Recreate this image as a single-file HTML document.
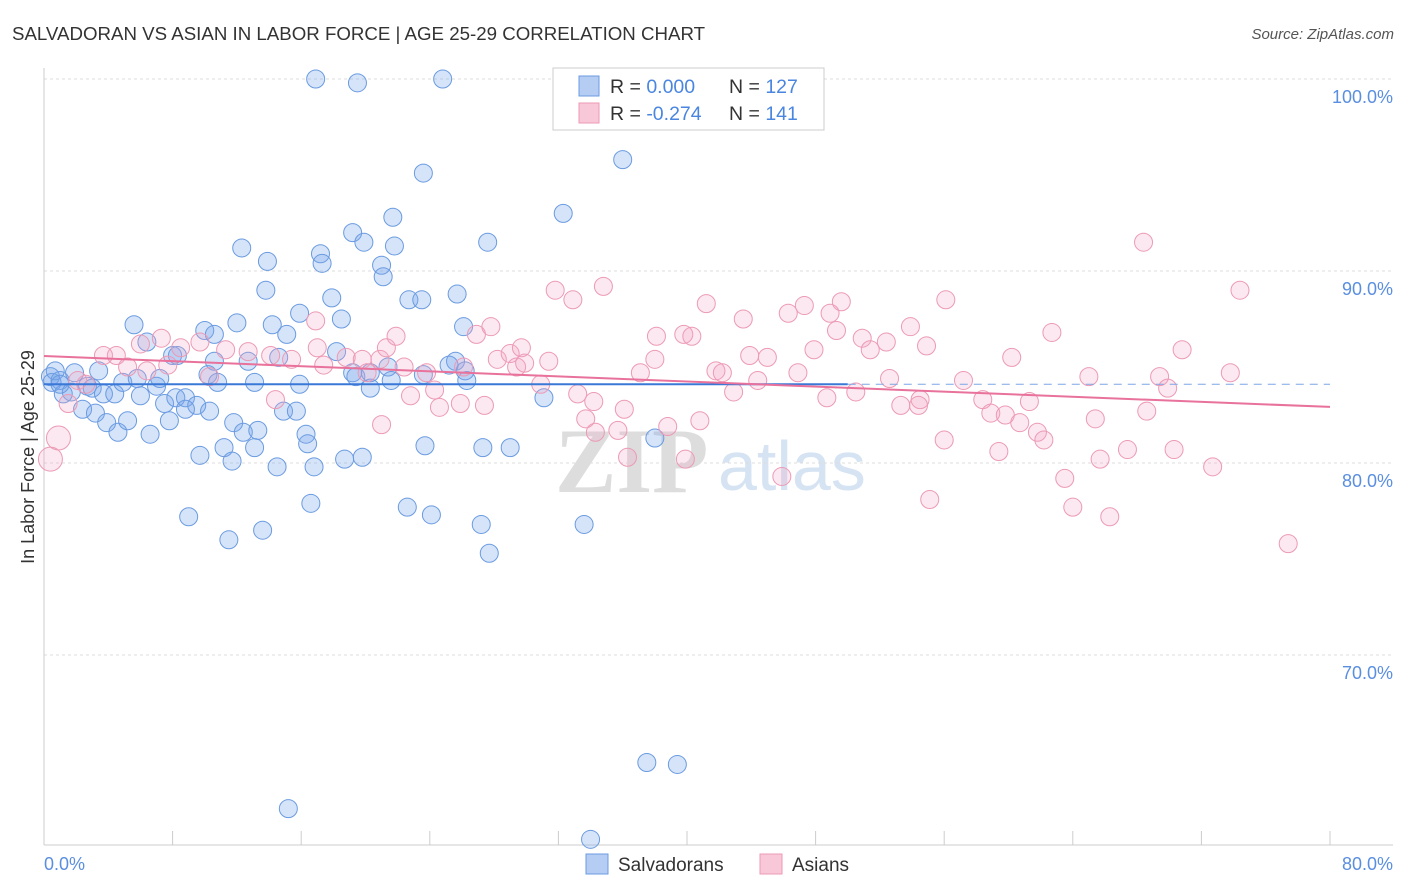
<!DOCTYPE html>
<html><head><meta charset="utf-8"><style>
body{margin:0;background:#fff;font-family:"Liberation Sans",sans-serif;}
svg{display:block}
</style></head><body>
<svg id="chart" width="1406" height="892">
<text x="12" y="40" font-size="18.7" fill="#333">SALVADORAN VS ASIAN IN LABOR FORCE | AGE 25-29 CORRELATION CHART</text>
<text x="1394" y="39" font-size="15" fill="#555" font-style="italic" text-anchor="end">Source: ZipAtlas.com</text>
<text x="555" y="492" font-size="92" fill="#ddd" font-family="Liberation Serif,serif" font-weight="bold">ZIP</text>
<text x="718" y="490" font-size="70" fill="#d6e3f3">atlas</text>
<g id="grid"></g>
<g id="axes"></g>
<g id="pts"></g>
<g id="lines"></g>
<text transform="translate(34,457) rotate(-90)" font-size="18" fill="#333" text-anchor="middle">In Labor Force | Age 25-29</text>
<text x="44" y="870" font-size="18" fill="#5a8ee0">0.0%</text>
<text x="1393" y="870" font-size="18" fill="#5a8ee0" text-anchor="end">80.0%</text>
<g>
<rect x="553" y="68" width="271" height="62" fill="#fff" stroke="#ccc"/>
<rect x="579" y="76" width="20" height="20" fill="#b5cdf3" stroke="#6a9be0"/>
<rect x="579" y="103" width="20" height="20" fill="#f8c8d8" stroke="#ec9ab5"/>
<text x="610" y="93" font-size="19.5" fill="#333">R = <tspan fill="#4a86e0">0.000</tspan><tspan x="729">N = </tspan><tspan fill="#4a86e0">127</tspan></text>
<text x="610" y="120" font-size="19.5" fill="#333">R = <tspan fill="#4a86e0">-0.274</tspan><tspan x="729">N = </tspan><tspan fill="#4a86e0">141</tspan></text>
</g>
<g><rect x="586" y="854" width="22" height="20" fill="#b5cdf3" stroke="#6a9be0"/><text x="618" y="871" font-size="19" fill="#333">Salvadorans</text></g>
<g><rect x="760" y="854" width="22" height="20" fill="#f8c8d8" stroke="#ec9ab5"/><text x="792" y="871" font-size="19" fill="#333">Asians</text></g>
</svg>
<script>
const yTicks=[100,90,80,70];
const yTickLabels=["100.0%","90.0%","80.0%","70.0%"];
const xTicks=[0,8,16,24,32,40,48,56,64,72,80];
const blueX=[16.9,19.5,24.8,43.1,36.0,23.6,21.7,32.3,19.2,19.9,12.3,17.2,21.8,27.6,13.9,17.3,21.0,21.1,13.8,25.7,22.7,23.5,17.9,15.9,5.6,12.0,14.2,18.5,26.1,10.0,10.6,15.1,6.4,8.0,10.6,12.7,14.6,18.2,25.6,25.2,8.3,1.9,3.4,0.4,0.5,1.0,1.2,1.7,2.7,3.0,3.7,4.4,4.9,5.8,7.0,7.2,6.0,7.5,8.2,8.8,9.5,10.2,10.8,13.1,15.9,19.2,19.4,20.3,21.4,21.6,23.6,26.3,26.2,31.1,20.3,2.4,3.2,3.9,4.6,5.2,6.6,7.8,8.8,10.3,11.8,12.4,13.3,14.9,15.7,16.3,16.4,9.7,11.2,11.7,13.1,14.5,16.8,18.7,19.8,23.7,27.3,29.0,38.0,9.0,11.5,13.6,16.6,22.6,24.1,27.2,27.7,33.6,37.5,39.4,15.2,34.0,0.7,1.0];
const blueY=[100,99.8,100,100,95.8,95.1,92.8,93.0,92.0,91.5,91.2,90.9,91.3,91.5,90.5,90.4,90.3,89.7,89.0,88.8,88.5,88.5,88.6,87.8,87.2,87.3,87.2,87.5,87.1,86.9,86.7,86.7,86.3,85.6,85.3,85.3,85.5,85.8,85.3,85.1,85.6,84.7,84.8,84.5,84.2,84.3,83.6,83.7,84.0,83.9,83.6,83.6,84.2,84.4,84.0,84.4,83.5,83.1,83.4,83.4,83.0,84.6,84.2,84.2,84.1,84.7,84.5,84.7,85.0,84.3,84.6,84.3,84.8,83.4,83.9,82.8,82.6,82.1,81.6,82.2,81.5,82.2,82.8,82.7,82.1,81.6,81.7,82.7,82.7,81.5,81.0,80.4,80.8,80.1,80.8,79.8,79.8,80.2,80.3,80.9,80.8,80.8,81.3,77.2,76.0,76.5,77.9,77.7,77.3,76.8,75.3,76.8,64.4,64.3,62.0,60.4,84.8,84.1];
const pinkX=[0.9,0.4,68.4,74.4,34.8,31.8,32.9,41.2,47.3,49.6,56.1,43.5,46.3,48.9,49.3,53.9,62.7,70.8,16.9,7.3,4.5,3.7,6.0,8.5,9.7,11.3,12.7,14.1,15.4,17.0,17.4,18.8,19.8,20.1,20.9,21.3,21.9,22.4,23.8,26.1,27.8,28.2,29.0,29.7,29.4,31.4,26.9,38.1,39.8,40.3,38.0,37.1,41.8,43.9,45.0,44.4,46.9,47.9,50.9,51.4,52.4,52.6,54.9,57.2,60.2,65.0,69.4,69.9,58.4,58.9,59.8,61.3,61.8,62.2,60.7,65.4,68.6,54.5,54.4,53.3,50.5,48.7,42.9,42.2,40.8,38.8,35.7,33.7,33.2,34.2,30.9,27.4,25.9,24.6,24.3,22.8,21.0,14.4,1.5,2.6,2.1,5.2,6.4,7.7,10.3,55.1,64.0,66.3,63.5,65.7,67.4,70.3,72.7,77.4,56.0,59.4,45.9,39.9,36.3,34.3,36.1,29.9,73.8];
const pinkY=[81.3,80.2,91.5,89.0,89.2,89.0,88.5,88.3,88.2,88.4,88.5,87.5,87.8,87.8,86.9,87.1,86.8,85.9,87.4,86.5,85.6,85.6,86.2,86.0,86.3,85.9,85.8,85.6,85.4,86.0,85.1,85.5,85.4,84.7,85.4,86.0,86.6,85.0,84.7,85.0,87.1,85.4,85.7,86.0,85.0,85.3,86.7,86.6,86.7,86.6,85.4,84.7,84.8,85.6,85.5,84.3,84.7,85.9,86.5,85.9,86.3,84.4,86.1,84.3,85.5,84.5,84.5,83.9,83.3,82.6,82.5,83.2,81.6,81.2,82.1,82.3,82.7,83.3,83.0,83.0,83.7,83.4,83.7,84.7,82.2,81.9,81.7,82.3,83.6,83.2,84.1,83.0,83.1,82.9,83.8,83.5,82.0,83.3,83.1,84.1,84.3,85.0,84.8,85.1,84.5,78.1,77.7,77.2,79.2,80.2,80.7,80.7,79.8,75.8,81.2,80.6,79.3,80.2,80.3,81.6,82.8,85.2,84.7];
const bigPink=[0,1];
const blueFit=[0,50,84.1];
const pinkFit=[0,80,85.57,82.92];
const NS="http://www.w3.org/2000/svg";
const x=v=>44+v*16.075, y=v=>79+(100-v)*19.2;
function mk(tag,attrs,parent){const e=document.createElementNS(NS,tag);for(const k in attrs)e.setAttribute(k,attrs[k]);document.getElementById(parent).appendChild(e);return e;}
yTicks.forEach((t,i)=>{
 const l=mk('line',{x1:44,x2:1393,y1:y(t),y2:y(t),stroke:'#ddd','stroke-dasharray':'3,3'},'grid');
 
 
 const tx=mk('text',{x:1393,y:y(t)+24,'font-size':18,fill:'#5a8ee0','text-anchor':'end'},'grid');tx.textContent=yTickLabels[i];
 
 
});
const ax=mk('line',{x1:44,x2:1393,y1:845,y2:845,stroke:'#ccc'},'axes');


const ay=mk('line',{x1:44,x2:44,y1:68,y2:845,stroke:'#ccc'},'axes');


xTicks.forEach(t=>{const l=mk('line',{x1:x(t),x2:x(t),y1:831,y2:845,stroke:'#ccc'},'axes');
 
 });
blueX.forEach((v,i)=>{const c=mk('circle',{cx:x(v),cy:y(blueY[i]),r:9,fill:'rgba(120,165,235,0.3)',stroke:'#6a9be0','stroke-width':1},'pts');
 
 });
pinkX.forEach((v,i)=>{const c=mk('circle',{cx:x(v),cy:y(pinkY[i]),r:bigPink.includes(i)?12:9,fill:'rgba(245,165,195,0.25)',stroke:'#ec9ab5','stroke-width':1},'pts');
 
 });
const bl=mk('line',{x1:x(blueFit[0]),x2:x(blueFit[1]),y1:y(blueFit[2]),y2:y(blueFit[2]),stroke:'#3a78d8','stroke-width':2},'lines');


const bd=mk('line',{x1:x(blueFit[1]),x2:x(80),y1:y(blueFit[2]),y2:y(blueFit[2]),stroke:'#7aa6e6','stroke-width':1,'stroke-dasharray':'8,6'},'lines');


const pl=mk('line',{x1:x(pinkFit[0]),x2:x(pinkFit[1]),y1:y(pinkFit[2]),y2:y(pinkFit[3]),stroke:'#e8729b','stroke-width':2},'lines');


</script>
</body></html>
